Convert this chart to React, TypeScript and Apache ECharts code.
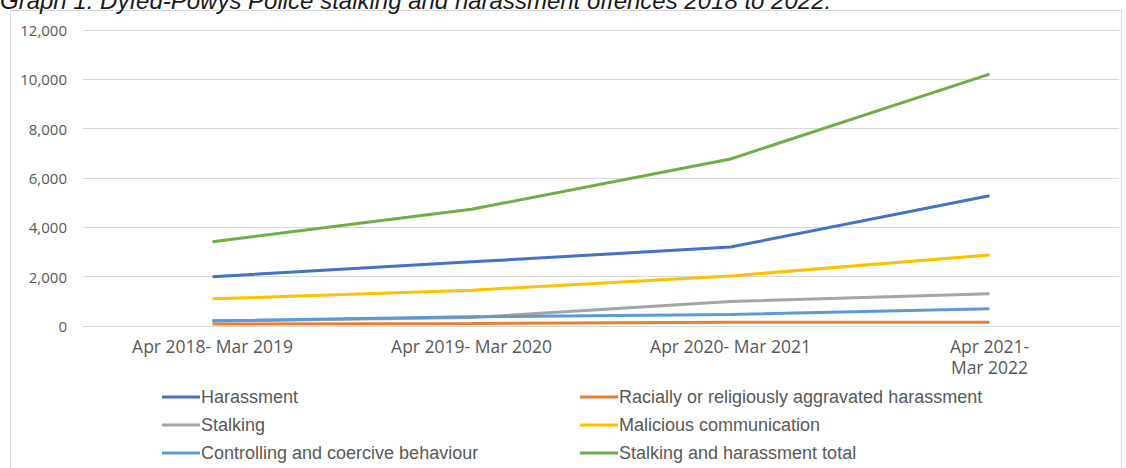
import React, { useEffect, useRef } from "react";
import * as echarts from "echarts";

const categories = ["Apr 2018- Mar 2019", "Apr 2019- Mar 2020", "Apr 2020- Mar 2021", "Apr 2021-\nMar 2022"];
const harassment = [2000, 2600, 3200, 5280];
const racially = [80, 100, 150, 150];
const stalking = [200, 340, 990, 1310];
const malicious = [1100, 1450, 2030, 2880];
const controlling = [210, 370, 470, 700];
const total = [3420, 4730, 6770, 10210];
const yTicks = [0, 2000, 4000, 6000, 8000, 10000, 12000];

const seriesDefs = [
  { name: "Harassment", data: harassment, color: "#4472C4" },
  { name: "Racially or religiously aggravated harassment", data: racially, color: "#ED7D31" },
  { name: "Stalking", data: stalking, color: "#A5A5A5" },
  { name: "Malicious communication", data: malicious, color: "#FFC000" },
  { name: "Controlling and coercive behaviour", data: controlling, color: "#5B9BD5" },
  { name: "Stalking and harassment total", data: total, color: "#70AD47" },
];

// legend layout: row-major, two columns
const legendCols = [162, 580];
const legendRows = [388, 416, 444];

const titleText = "Graph 1: Dyfed-Powys Police stalking and harassment offences 2018 to 2022.";

export default function App() {
  const ref = useRef<HTMLDivElement>(null);
  useEffect(() => {
    if (!ref.current) return;
    const chart = echarts.init(ref.current, undefined, { renderer: "svg" });
    const legendText = {
      fontFamily: "Liberation Sans, Arial, sans-serif",
      fontSize: 18,
      color: "#595959",
      padding: [0, 0, 0, -4],
    };
    const legends = seriesDefs.map((s, i) => ({
      orient: "horizontal",
      left: legendCols[i % 2],
      top: legendRows[Math.floor(i / 2)],
      padding: 0,
      itemWidth: 38,
      itemHeight: 3,
      icon: "rect",
      selectedMode: false,
      data: [s.name],
      textStyle: legendText,
    }));
    chart.setOption({
      animation: false,
      backgroundColor: "#ffffff",
      graphic: [
        {
          type: "text",
          left: 0,
          top: -12,
          style: {
            text: titleText,
            font: "italic 24px 'Liberation Sans', Arial, sans-serif",
            fill: "#1a1a1a",
          },
          z: 10,
        },
        {
          type: "rect",
          shape: { x: 10.5, y: 10.5, width: 1111, height: 470 },
          style: { fill: "none", stroke: "#d9d9d9", lineWidth: 1 },
          z: -1,
        },
      ],
      grid: { left: 83, right: 7, top: 30, height: 296, containLabel: false },
      xAxis: {
        type: "category",
        data: categories,
        boundaryGap: true,
        axisLine: { show: true, lineStyle: { color: "#d9d9d9", width: 1 } },
        axisTick: { show: false },
        axisLabel: {
          interval: 0,
          margin: 9,
          fontFamily: "Open Sans, sans-serif",
          fontSize: 17.5,
          lineHeight: 21,
          color: "#595959",
        },
        splitLine: { show: false },
      },
      yAxis: {
        type: "value",
        min: yTicks[0],
        max: yTicks[yTicks.length - 1],
        interval: 2000,
        axisLine: { show: false },
        axisTick: { show: false },
        axisLabel: {
          margin: 16,
          fontFamily: "Open Sans, sans-serif",
          fontSize: 15,
          color: "#595959",
          formatter: (v: number) => v.toLocaleString("en-GB"),
        },
        splitLine: { show: true, lineStyle: { color: "#d9d9d9", width: 1 } },
      },
      legend: legends,
      series: seriesDefs.map((s) => ({
        name: s.name,
        type: "line",
        data: s.data,
        symbol: "none",
        smooth: false,
        lineStyle: { color: s.color, width: 3 },
        itemStyle: { color: s.color },
      })),
    });
    return () => chart.dispose();
  }, []);
  return (
    <div
      ref={ref}
      style={{ position: "fixed", left: 0, top: 0, width: 1126, height: 468 }}
    />
  );
}
